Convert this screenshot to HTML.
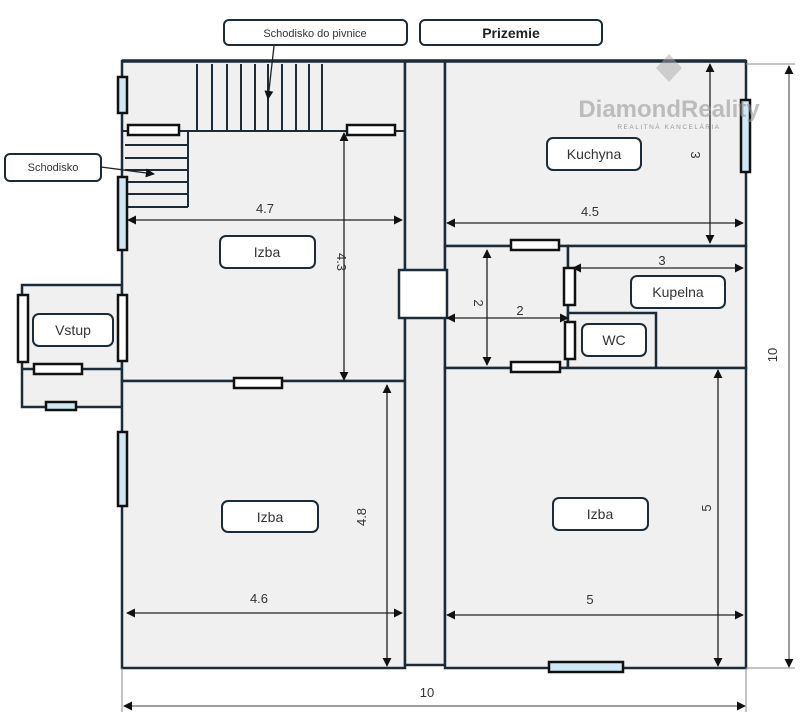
<!DOCTYPE html>
<html><head><meta charset="utf-8"><style>
html,body{margin:0;padding:0;background:#fff;}
svg{display:block;}
text{font-family:"Liberation Sans",sans-serif;}
</style></head><body>
<svg width="802" height="725" viewBox="0 0 802 725" xmlns="http://www.w3.org/2000/svg">
<defs>
<marker id="a" viewBox="0 0 10 10" refX="9" refY="5" markerWidth="9" markerHeight="9" orient="auto-start-reverse" markerUnits="userSpaceOnUse"><path d="M0,0 L10,5 L0,10 z" fill="#111"/></marker>
</defs>
<g stroke="#1c2b36" stroke-width="2.5" fill="#f0f0f0">
<!-- vstup -->
<rect x="22" y="285" width="100" height="122"/>
<line x1="22" y1="369" x2="122" y2="369"/>
<!-- main rooms -->
<rect x="122" y="61" width="283" height="320"/>
<rect x="122" y="381" width="283" height="287"/>
<rect x="405" y="61" width="40" height="604" fill="#efefef"/>
<rect x="445" y="61" width="301" height="185"/>
<rect x="445" y="246" width="123" height="122"/>
<rect x="568" y="246" width="178" height="122"/>
<rect x="568" y="313" width="88" height="55"/>
<rect x="445" y="368" width="301" height="300"/>
<rect x="399" y="270" width="48" height="48" fill="#fff"/>
</g>
<line x1="122" y1="61" x2="746" y2="61" stroke="#1c2b36" stroke-width="3.5"/>
<!-- stairs top -->
<g stroke="#1c2b36" stroke-width="2">
<line x1="197" y1="64" x2="197" y2="130"/><line x1="212" y1="64" x2="212" y2="130"/><line x1="227" y1="64" x2="227" y2="130"/><line x1="241" y1="64" x2="241" y2="130"/><line x1="255" y1="64" x2="255" y2="130"/><line x1="268" y1="64" x2="268" y2="130"/><line x1="282" y1="64" x2="282" y2="130"/><line x1="296" y1="64" x2="296" y2="130"/><line x1="309" y1="64" x2="309" y2="130"/><line x1="322" y1="64" x2="322" y2="130"/>
<line x1="122" y1="131" x2="405" y2="131"/>
<line x1="188" y1="131" x2="188" y2="207"/>
<line x1="125" y1="145" x2="188" y2="145"/><line x1="125" y1="158" x2="188" y2="158"/><line x1="125" y1="170" x2="188" y2="170"/><line x1="125" y1="182" x2="188" y2="182"/><line x1="125" y1="194" x2="188" y2="194"/><line x1="125" y1="207" x2="188" y2="207"/>
</g>
<!-- windows -->
<g stroke="#111" stroke-width="2.5" fill="#cfe8f4">
<rect x="118" y="77" width="9" height="36"/>
<rect x="118" y="177" width="9" height="73"/>
<rect x="118" y="432" width="9" height="74"/>
<rect x="741" y="100" width="9" height="72"/>
<rect x="46" y="402" width="30" height="8"/>
<rect x="549" y="662" width="74" height="10"/>
</g>
<!-- doors -->
<g stroke="#111" stroke-width="2.5" fill="#fff">
<rect x="128" y="125" width="51" height="10"/>
<rect x="347" y="125" width="48" height="10"/>
<rect x="234" y="378" width="48" height="10"/>
<rect x="511" y="240" width="48" height="10"/>
<rect x="511" y="362" width="49" height="10"/>
<rect x="564" y="268" width="11" height="37"/>
<rect x="565" y="322" width="10" height="37"/>
<rect x="118" y="295" width="9" height="66"/>
<rect x="18" y="295" width="10" height="67"/>
<rect x="34" y="364" width="48" height="10"/>
</g>
<!-- dimension lines -->
<g stroke="#222" stroke-width="1.3" fill="none" marker-start="url(#a)" marker-end="url(#a)">
<line x1="128" y1="220" x2="402" y2="220"/>
<line x1="344" y1="133" x2="344" y2="380"/>
<line x1="447" y1="223" x2="743" y2="223"/>
<line x1="710" y1="64" x2="710" y2="243"/>
<line x1="573" y1="268" x2="743" y2="268"/>
<line x1="487" y1="250" x2="487" y2="365"/>
<line x1="447" y1="318" x2="568" y2="318"/>
<line x1="387" y1="385" x2="387" y2="666"/>
<line x1="718" y1="370" x2="718" y2="666"/>
<line x1="127" y1="613" x2="402" y2="613"/>
<line x1="447" y1="615" x2="743" y2="615"/>
<line x1="789" y1="66" x2="789" y2="667" stroke="#666"/>
<line x1="124" y1="706" x2="745" y2="706" stroke="#666"/>
</g>
<g stroke="#888" stroke-width="1">
<line x1="746" y1="64" x2="795" y2="64"/>
<line x1="746" y1="668" x2="795" y2="668"/>
<line x1="122" y1="668" x2="122" y2="712"/>
<line x1="746" y1="668" x2="746" y2="712"/>
</g>
<!-- dim text -->
<g font-size="13" fill="#333" text-anchor="middle">
<text x="265" y="213">4.7</text>
<text x="590" y="216">4.5</text>
<text x="662" y="265">3</text>
<text x="520" y="315">2</text>
<text x="259" y="603">4.6</text>
<text x="590" y="604">5</text>
<text x="427" y="697">10</text>
<text transform="translate(337,262) rotate(90)">4.3</text>
<text transform="translate(691,155) rotate(90)">3</text>
<text transform="translate(474,303) rotate(90)">2</text>
<text transform="translate(366,517) rotate(-90)">4.8</text>
<text transform="translate(711,508) rotate(-90)">5</text>
<text transform="translate(777,355) rotate(-90)">10</text>
</g>
<!-- watermark -->
<text x="669" y="117" font-size="24" font-weight="bold" fill="#9a9a9a" fill-opacity="0.6" text-anchor="middle">DiamondReality</text>
<text x="669" y="129" font-size="6.5" fill="#999" text-anchor="middle" letter-spacing="1.5">REALITNÁ KANCELÁRIA</text>
<path d="M669,54 L682,68 L669,82 L656,68 z" fill="#aaa" fill-opacity="0.5"/>
<!-- labels -->
<g stroke="#1c2b36" stroke-width="2" fill="#fff">
<rect x="224" y="20" width="183" height="25" rx="5"/>
<rect x="420" y="20" width="182" height="25" rx="5"/>
<rect x="5" y="154" width="96" height="27" rx="5"/>
<rect x="220" y="236" width="95" height="32" rx="6"/>
<rect x="33" y="314" width="80" height="32" rx="6"/>
<rect x="547" y="138" width="94" height="32" rx="6"/>
<rect x="631" y="276" width="94" height="32" rx="6"/>
<rect x="582" y="324" width="64" height="32" rx="6"/>
<rect x="222" y="501" width="96" height="31" rx="6"/>
<rect x="553" y="498" width="95" height="32" rx="6"/>
</g>
<g stroke="#222" stroke-width="1.3" fill="none" marker-end="url(#a)">
<line x1="274" y1="46" x2="268" y2="99"/>
<line x1="101" y1="167" x2="154" y2="174"/>
</g>
<g font-size="14" fill="#333" text-anchor="middle">
<text x="315" y="37" font-size="11">Schodisko do pivnice</text>
<text x="511" y="38" font-size="14" font-weight="bold" fill="#222">Prizemie</text>
<text x="53" y="171" font-size="11">Schodisko</text>
<text x="267" y="257">Izba</text>
<text x="73" y="335">Vstup</text>
<text x="594" y="159">Kuchyna</text>
<text x="678" y="297">Kupelna</text>
<text x="614" y="345">WC</text>
<text x="270" y="522">Izba</text>
<text x="600" y="519">Izba</text>
</g>
</svg>
</body></html>
